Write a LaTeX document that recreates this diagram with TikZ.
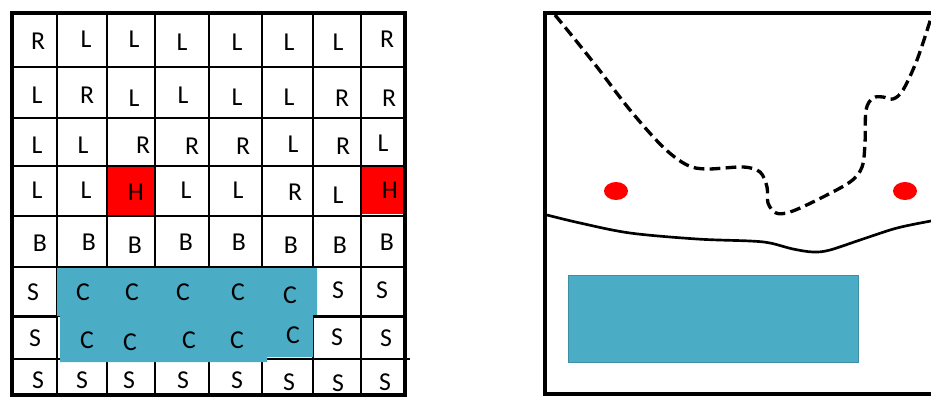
\documentclass[tikz,border=0pt]{standalone}
\usepackage{fontspec}
\setmainfont{Carlito}
\usetikzlibrary{shapes.geometric}

\definecolor{aqua}{HTML}{4BACC6}
\definecolor{aquaedge}{HTML}{3E8FA6}

\begin{document}
\begin{tikzpicture}[
    x=0.03cm, y=-0.03cm,
    letter/.style={inner sep=0pt, font=\fontsize{22}{26}\selectfont},
    gridline/.style={line width=0.06cm},
    border/.style={line width=0.12cm, line cap=rect},
    hotcell/.style={fill=red},
    pool/.style={fill=aqua, draw=aquaedge, line width=0.03cm},
    hole/.style={ellipse, fill=red, inner sep=0pt, minimum width=0.72cm, minimum height=0.54cm}
]
\useasboundingbox (0,0) rectangle (931,397);

% -------------------------
% Left Panel: Grid
% -------------------------
\fill[hotcell] (107,166) rectangle (155,216);
\fill[hotcell] (361,166) rectangle (405,214);

\draw[gridline] (57,13) -- (57,395);
\draw[gridline] (107,13) -- (107,395);
\draw[gridline] (155,13) -- (155,395);
\draw[gridline] (209,13) -- (209,395);
\draw[gridline] (262,13) -- (262,395);
\draw[gridline] (313,13) -- (313,395);
\draw[gridline] (361,13) -- (361,395);
\draw[gridline] (12,67) -- (405,67);
\draw[gridline] (12,118) -- (405,118);
\draw[gridline] (12,166) -- (405,166);
\draw[gridline] (12,216) -- (405,216);
\draw[gridline] (12,267) -- (405,267);
\draw[gridline] (12,316) -- (405,316);
\draw[gridline] (12,359) -- (410,359);

% Covered Area
\fill[aqua] (57,268) -- (317,268) -- (317,316) -- (313,316) -- (313,357)
    -- (267,357) -- (267,362) -- (60,362) -- (60,316) -- (57,316) -- cycle;

\draw[line width=0.09cm] (12,316) -- (57,316);
\draw[line width=0.09cm] (313,316) -- (405,316);
\draw[border] (12,13) rectangle (405,395);

% Row 1
\node[letter] (r1c1) at (38,41) {R};
\node[letter] (r1c2) at (86,39) {L};
\node[letter] (r1c3) at (134,39) {L};
\node[letter] (r1c4) at (182,42) {L};
\node[letter] (r1c5) at (237,42) {L};
\node[letter] (r1c6) at (289,42) {L};
\node[letter] (r1c7) at (338,42) {L};
\node[letter] (r1c8) at (387,39) {R};
% Row 2
\node[letter] (r2c1) at (37,95) {L};
\node[letter] (r2c2) at (87,95) {R};
\node[letter] (r2c3) at (134,98) {L};
\node[letter] (r2c4) at (183,95) {L};
\node[letter] (r2c5) at (237,97) {L};
\node[letter] (r2c6) at (289,97) {L};
\node[letter] (r2c7) at (342,98) {R};
\node[letter] (r2c8) at (389,98) {R};
% Row 3
\node[letter] (r3c1) at (37,145) {L};
\node[letter] (r3c2) at (83,145) {L};
\node[letter] (r3c3) at (143,145) {R};
\node[letter] (r3c4) at (192,146) {R};
\node[letter] (r3c5) at (243,146) {R};
\node[letter] (r3c6) at (293,144) {L};
\node[letter] (r3c7) at (343,146) {R};
\node[letter] (r3c8) at (383,143) {L};
% Row 4
\node[letter] (r4c1) at (37,190) {L};
\node[letter] (r4c2) at (86,190) {L};
\node[letter] (r4c3) at (136,192) {H};
\node[letter] (r4c4) at (186,190) {L};
\node[letter] (r4c5) at (238,190) {L};
\node[letter] (r4c6) at (295,192) {R};
\node[letter] (r4c7) at (338,195) {L};
\node[letter] (r4c8) at (390,190) {H};
% Row 5
\node[letter] (r5c1) at (40,243) {B};
\node[letter] (r5c2) at (89,242) {B};
\node[letter] (r5c3) at (135,245) {B};
\node[letter] (r5c4) at (186,242) {B};
\node[letter] (r5c5) at (239,242) {B};
\node[letter] (r5c6) at (291,245) {B};
\node[letter] (r5c7) at (340,245) {B};
\node[letter] (r5c8) at (387,242) {B};
% Row 6
\node[letter] (r6c1) at (33,292) {S};
\node[letter] (r6c2) at (83,292) {C};
\node[letter] (r6c3) at (132,292) {C};
\node[letter] (r6c4) at (183,292) {C};
\node[letter] (r6c5) at (238,292) {C};
\node[letter] (r6c6) at (290,295) {C};
\node[letter] (r6c7) at (338,290) {S};
\node[letter] (r6c8) at (382,290) {S};
% Row 7
\node[letter] (r7c1) at (35,338) {S};
\node[letter] (r7c2) at (87,340) {C};
\node[letter] (r7c3) at (130,342) {C};
\node[letter] (r7c4) at (189,340) {C};
\node[letter] (r7c5) at (237,340) {C};
\node[letter] (r7c6) at (293,335) {C};
\node[letter] (r7c7) at (337,337) {S};
\node[letter] (r7c8) at (386,338) {S};
% Row 8
\node[letter] (r8c1) at (38,380) {S};
\node[letter] (r8c2) at (82,380) {S};
\node[letter] (r8c3) at (129,380) {S};
\node[letter] (r8c4) at (183,380) {S};
\node[letter] (r8c5) at (237,380) {S};
\node[letter] (r8c6) at (289,382) {S};
\node[letter] (r8c7) at (338,383) {S};
\node[letter] (r8c8) at (385,382) {S};

% -------------------------
% Right Panel: Sketch
% -------------------------
\draw[border] (934,13) -- (545,13) -- (545,394) -- (934,394);

% Dashed boundary
\draw[line width=0.1cm, dash pattern=on 0.32cm off 0.16cm]
    plot[smooth, tension=0.55] coordinates {
    (555,15) (573,37) (597,67) (630,110) (663,147) (687,165) (707,169)
    (743,167) (760,172) (767,187) (768,203) (776,213) (790,212) (817,200)
    (850,182) (862,167) (865,143) (866,110) (873,98) (883,97) (893,99)
    (903,90) (917,60) (931,18)};

% Solid boundary
\draw[line width=0.08cm]
    plot[smooth, tension=0.55] coordinates {
    (547,215) (580,223) (630,233) (697,239) (750,241) (770,243)
    (793,249) (813,252) (830,250) (863,239) (897,228) (931,221)};

\node[hole] (dotL) at (616,191) {};
\node[hole] (dotR) at (905,191) {};

\draw[pool] (568,275) rectangle (858,362);

\end{tikzpicture}
\end{document}
